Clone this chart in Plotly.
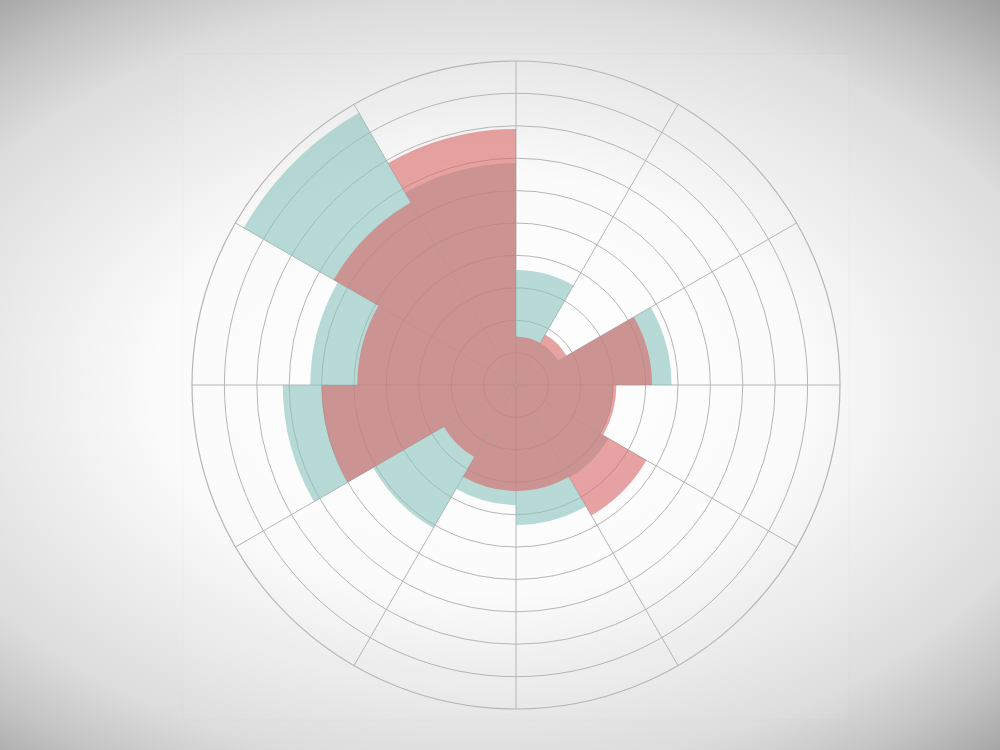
import base64
import plotly.graph_objects as go

# sector centres (degrees, counter-clockwise from east)
directions = [15, 45, 75, 105, 135, 165, 195, 225, 255, 285, 315, 345]
sector_width = [30] * 12

series_teal = [4.8, 1.5, 3.55, 6.85, 9.7, 6.35, 7.2, 5.1, 3.7, 4.32, 3.3, 3.0]
series_red = [4.2, 1.8, 1.5, 7.9, 6.5, 4.9, 6.0, 2.57, 3.27, 3.27, 4.65, 3.1]

W, H = 1000, 750
L, R, T, B = 192, 160, 61, 41
pw, ph = W - L - R, H - T - B

svg = f'''<svg xmlns="http://www.w3.org/2000/svg" width="{W}" height="{H}" viewBox="0 0 {W} {H}">
<defs><radialGradient id="g" gradientUnits="userSpaceOnUse" cx="480" cy="385" r="520"
 gradientTransform="translate(480 385) scale(1.55 1) translate(-480 -385)">
<stop offset="0" stop-color="#ffffff"/>
<stop offset="0.4" stop-color="#fbfbfb"/>
<stop offset="0.58" stop-color="#ebebeb"/>
<stop offset="0.74" stop-color="#dcdcdc"/>
<stop offset="0.85" stop-color="#c4c4c4"/>
<stop offset="1" stop-color="#999999"/>
</radialGradient></defs>
<rect x="0" y="0" width="{W}" height="{H}" fill="url(#g)"/>
</svg>'''
src = "data:image/svg+xml;base64," + base64.b64encode(svg.encode()).decode()

fig = go.Figure()
fig.add_trace(go.Barpolar(
    r=series_teal, theta=directions, width=sector_width,
    marker=dict(color="rgb(137,195,190)", line=dict(width=0)),
    opacity=0.6, name="teal",
))
fig.add_trace(go.Barpolar(
    r=series_red, theta=directions, width=sector_width,
    marker=dict(color="rgb(217,103,103)", line=dict(width=0)),
    opacity=0.6, name="red",
))

grid = "#b6b6b6"
fig.update_layout(
    width=W, height=H,
    margin=dict(l=L, r=R, t=T, b=B),
    paper_bgcolor="#ffffff",
    showlegend=False,
    images=[dict(
        source=src, xref="paper", yref="paper",
        x=-L / pw, y=1 + T / ph, sizex=W / pw, sizey=H / ph,
        xanchor="left", yanchor="top", sizing="stretch", layer="below",
    )],
    shapes=[dict(
        type="rect", xref="paper", yref="paper",
        x0=(183 - L) / pw, x1=(849 - L) / pw,
        y0=(T + ph - 720) / ph, y1=(T + ph - 54) / ph,
        line=dict(color="rgba(0,0,0,0.02)", width=1),
        fillcolor="rgba(255,255,255,0.05)", layer="below",
    )],
    polar=dict(
        bgcolor="rgba(0,0,0,0)",
        barmode="overlay",
        domain=dict(x=[0, 1], y=[0, 1]),
        radialaxis=dict(
            range=[0, 10], tickmode="linear", tick0=0, dtick=1,
            showticklabels=False, ticks="", showline=False,
            gridcolor=grid, gridwidth=1.2,
        ),
        angularaxis=dict(
            tickmode="linear", tick0=0, dtick=30,
            showticklabels=False, ticks="", showline=True,
            linecolor=grid, linewidth=1.2, gridcolor=grid, gridwidth=1.2,
            direction="counterclockwise", rotation=0,
        ),
    ),
)

fig.write_html(
    "out.html",
    config={"displayModeBar": False},
    post_script="document.body.style.margin='0';document.body.style.overflow='hidden';",
)
